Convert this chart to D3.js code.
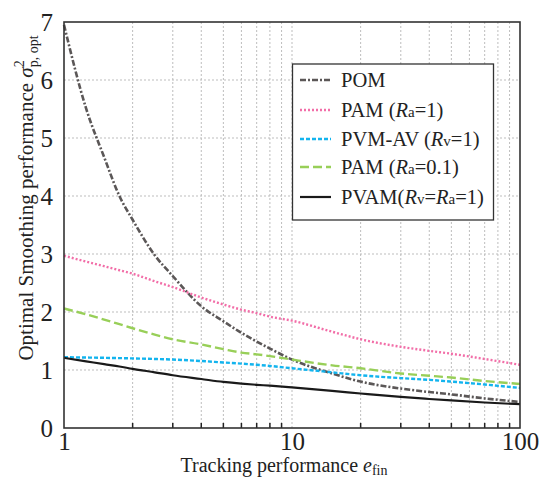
<!DOCTYPE html>
<html>
<head>
<meta charset="utf-8">
<script src="https://cdn.jsdelivr.net/npm/d3@7"></script>
<style>
  body { margin: 0; background: #fff; }
  text { font-family: "Liberation Serif", "DejaVu Serif", serif; fill: #222; }
</style>
</head>
<body>
<div id="chart"></div>
<script>
// values
var xVals = [1, 1.25, 1.5, 1.75, 2, 2.5, 3, 4, 5, 6, 7, 8, 10, 15, 20, 30, 40, 50, 70, 100];
var pom  = [6.95, 5.51, 4.67, 4.0, 3.59, 2.98, 2.62, 2.10, 1.84, 1.64, 1.49, 1.37, 1.18, 0.94, 0.80, 0.68, 0.62, 0.58, 0.51, 0.45];
var pam1 = [2.97, 2.87, 2.79, 2.72, 2.66, 2.53, 2.43, 2.25, 2.13, 2.04, 1.98, 1.92, 1.85, 1.66, 1.53, 1.40, 1.33, 1.28, 1.19, 1.09];
var pvm  = [1.22, 1.215, 1.21, 1.205, 1.20, 1.19, 1.18, 1.155, 1.13, 1.11, 1.09, 1.07, 1.03, 0.96, 0.91, 0.86, 0.83, 0.80, 0.75, 0.69];
var pam01 = [2.06, 1.96, 1.87, 1.79, 1.72, 1.61, 1.53, 1.44, 1.36, 1.30, 1.27, 1.24, 1.18, 1.08, 1.03, 0.94, 0.90, 0.87, 0.81, 0.76];
var pvam = [1.21, 1.15, 1.10, 1.06, 1.02, 0.96, 0.91, 0.845, 0.795, 0.765, 0.745, 0.73, 0.70, 0.64, 0.595, 0.535, 0.50, 0.475, 0.44, 0.41];

var xTickLabels = [1, 10, 100];
var xGrid = [2, 3, 4, 5, 6, 7, 8, 9, 10, 20, 30, 40, 50, 60, 70, 80, 90];
var yTicks = [0, 1, 2, 3, 4, 5, 6, 7];

var width = 543, height = 479;
var margin = {left: 64, right: 23, top: 22, bottom: 51};

var svg = d3.select("#chart")
    .append("svg")
    .attr("width", width)
    .attr("height", height);

var x = d3.scaleLog()
    .domain([1, 100])
    .range([margin.left, width - margin.right]);

var y = d3.scaleLinear()
    .domain([0, 7])
    .range([height - margin.bottom, margin.top]);

// grid
svg.append("g")
    .selectAll("line")
    .data(xGrid)
    .enter().append("line")
    .attr("x1", function(d) { return x(d); })
    .attr("x2", function(d) { return x(d); })
    .attr("y1", y(0))
    .attr("y2", y(7))
    .attr("stroke", "#bdbdbd")
    .attr("stroke-width", 1)
    .attr("stroke-dasharray", "2,2");

svg.append("g")
    .selectAll("line")
    .data(yTicks.slice(1, 7))
    .enter().append("line")
    .attr("x1", x(1))
    .attr("x2", x(100))
    .attr("y1", function(d) { return y(d); })
    .attr("y2", function(d) { return y(d); })
    .attr("stroke", "#bdbdbd")
    .attr("stroke-width", 1)
    .attr("stroke-dasharray", "2,2");

// minor ticks along the bottom
svg.append("g")
    .selectAll("line")
    .data(xGrid.filter(function(d) { return d != 10; }))
    .enter().append("line")
    .attr("x1", function(d) { return x(d); })
    .attr("x2", function(d) { return x(d); })
    .attr("y1", y(0))
    .attr("y2", y(0) - 5)
    .attr("stroke", "#222")
    .attr("stroke-width", 1.5);

// axes (labels only)
var xAxis = svg.append("g")
    .attr("transform", "translate(0," + (y(0) + 1) + ")")
    .call(d3.axisBottom(x).tickValues(xTickLabels).tickFormat(d3.format("d")).tickSize(0));
xAxis.select(".domain").remove();
xAxis.selectAll("text").style("font-size", "25px").style("font-family", "Liberation Serif").attr("fill", "#222");

var yAxis = svg.append("g")
    .attr("transform", "translate(" + (x(1) - 8) + ",0)")
    .call(d3.axisLeft(y).tickValues(yTicks).tickFormat(d3.format("d")).tickSize(0));
yAxis.select(".domain").remove();
yAxis.selectAll("text").style("font-size", "25px").style("font-family", "Liberation Serif").attr("fill", "#222");

// series
var series = [
    {name: "POM", values: pom, color: "#5b5757", dash: "6,2,2,2", w: 2.6},
    {name: "PAM1", values: pam1, color: "#f26ea8", dash: "2,2", w: 2.4},
    {name: "PVM", values: pvm, color: "#13b4ee", dash: "4,2", w: 2.4},
    {name: "PAM01", values: pam01, color: "#98cf58", dash: "9,4", w: 2.4},
    {name: "PVAM", values: pvam, color: "#1a1a1a", dash: null, w: 2.2}
];

var line = d3.line()
    .x(function(d, i) { return x(xVals[i]); })
    .y(function(d) { return y(d); })
    .curve(d3.curveMonotoneX);

svg.append("g")
    .selectAll("path")
    .data(series)
    .enter().append("path")
    .attr("d", function(d) { return line(d.values); })
    .attr("fill", "none")
    .attr("stroke", function(d) { return d.color; })
    .attr("stroke-width", function(d) { return d.w; })
    .attr("stroke-dasharray", function(d) { return d.dash; });

// frame
svg.append("rect")
    .attr("x", x(1))
    .attr("y", y(7))
    .attr("width", x(100) - x(1))
    .attr("height", y(0) - y(7))
    .attr("fill", "none")
    .attr("stroke", "#333")
    .attr("stroke-width", 1.6);

// legend
var lg = svg.append("g");
lg.append("rect")
    .attr("x", 292.5)
    .attr("y", 64)
    .attr("width", 201)
    .attr("height", 156)
    .attr("fill", "#fff")
    .attr("stroke", "#333")
    .attr("stroke-width", 1.3);

var legendRows = [80, 110, 139, 167, 197];
var legendText = [
    [["POM", null]],
    [["PAM (", null], ["R", "i"], ["a", "s"], ["=1)", null]],
    [["PVM-AV (", null], ["R", "i"], ["v", "s"], ["=1)", null]],
    [["PAM (", null], ["R", "i"], ["a", "s"], ["=0.1)", null]],
    [["PVAM(", null], ["R", "i"], ["v", "s"], ["=", null], ["R", "i"], ["a", "s"], ["=1)", null]]
];

series.forEach(function(s, i) {
    lg.append("line")
        .attr("x1", 300)
        .attr("x2", 331)
        .attr("y1", legendRows[i])
        .attr("y2", legendRows[i])
        .attr("stroke", s.color)
        .attr("stroke-width", s.w)
        .attr("stroke-dasharray", s.dash);
    var t = lg.append("text")
        .attr("x", 341)
        .attr("y", legendRows[i] + 7)
        .style("font-size", "20.5px");
    legendText[i].forEach(function(p) {
        var ts = t.append("tspan").text(p[0]);
        if (p[1] == "i") ts.style("font-style", "italic");
        if (p[1] == "s") ts.style("font-size", "15px");
    });
});

// axis titles
var xt = svg.append("text")
    .attr("x", 284)
    .attr("y", 472)
    .attr("text-anchor", "middle")
    .style("font-size", "20px");
xt.append("tspan").text("Tracking performance ");
xt.append("tspan").text("e").style("font-style", "italic");
xt.append("tspan").text("fin").style("font-size", "14px").attr("dy", 3);

var yt = svg.append("text")
    .attr("transform", "translate(33,198) rotate(-90)")
    .attr("text-anchor", "middle")
    .style("font-size", "21px");
yt.append("tspan").text("Optimal Smoothing performance ");
yt.append("tspan").text("σ").style("font-style", "italic");
yt.append("tspan").text("2").style("font-size", "14px").attr("dy", -9);
yt.append("tspan").text("p, opt").style("font-size", "14px").attr("dx", -7).attr("dy", 14);
</script>
</body>
</html>
